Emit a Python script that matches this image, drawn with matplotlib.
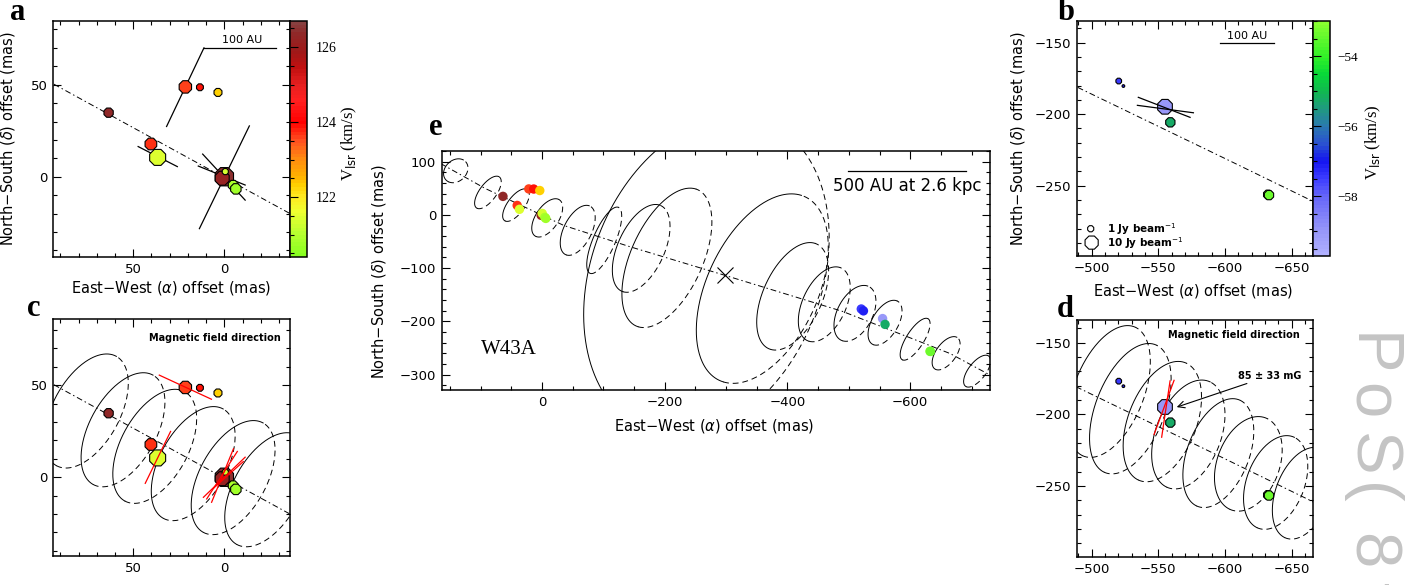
# Importamos las librerías necesarias
import numpy as np
import matplotlib
matplotlib.use("Agg")
import matplotlib.pyplot as plt
from matplotlib.colors import LinearSegmentedColormap, Normalize
from matplotlib.cm import ScalarMappable
from matplotlib.ticker import MultipleLocator

# - - - - Datos - - - -

# Máseres del lóbulo rojo (paneles a, c, e): offsets (mas), Vlsr (km/s), flujo (Jy/beam)
rojo_x = [63.5, 21.4, 13.4, 3.5, 40.3, 36.6, 0.0, 1.2, -0.5, -4.8, -6.3]
rojo_y = [34.8, 48.8, 48.6, 45.8, 17.8, 10.5, 0.0, -0.8, 2.8, -4.6, -6.6]
rojo_v = [126.4, 123.6, 123.9, 122.3, 123.7, 121.4, 126.5, 126.2, 121.3, 120.8, 120.7]
rojo_f = [3.5, 8.4, 1.4, 2.2, 7.0, 18.0, 27.0, 12.0, 1.0, 4.0, 5.0]

# Máseres del lóbulo azul (paneles b, d, e)
azul_x = [-520.3, -523.8, -555.0, -559.0, -632.2, -633.0]
azul_y = [-176.8, -180.3, -194.8, -205.7, -256.2, -256.6]
azul_v = [-57.4, -57.1, -59.0, -55.3, -53.1, -53.4]
azul_f = [0.8, 0.08, 14.0, 3.5, 3.0, 3.5]

# Eje del chorro (modelo de precesión)
eje_x = [165, 93, 0, -36, -144, -298, -489, -550, -600, -665, -735]
eje_y = [96.5, 50, -0.5, -20, -60, -113.5, -181, -208.5, -231, -260.5, -304]
estrella_x, estrella_y = -298, -113.5

# Vectores de polarización (panel a)
pol_a_x0 = [31.7, 13.7, 47.3, 14.3, 11.9]
pol_a_y0 = [27.3, -28.2, 16.4, 5.8, 12.3]
pol_a_x1 = [11.2, -13.7, 25.8, -11.4, -11.4]
pol_a_y1 = [70.0, 27.6, 5.5, -4.5, -12.7]

# Vectores de polarización (panel b)
pol_b_x0 = [-535.0, -534.3]
pol_b_y0 = [-188.2, -193.8]
pol_b_x1 = [-573.8, -576.3]
pol_b_y1 = [-202.2, -199.0]

# Dirección del campo magnético (panel c)
campo_c_x0 = [35.7, 43.4, 11.5, 7.0, 9.7, 6.0]
campo_c_y0 = [55.5, -3.3, -10.9, -13.6, -11.8, -6.0]
campo_c_x1 = [7.1, 29.5, -11.4, -5.0, -7.1, -10.4]
campo_c_y1 = [42.4, 24.9, 10.9, 15.5, 14.0, 8.5]

# Dirección del campo magnético (panel d)
campo_d_x0 = [-546.8, -552.5]
campo_d_y0 = [-214.0, -215.9]
campo_d_x1 = [-561.8, -558.8]
campo_d_y1 = [-176.2, -176.6]

# Anillos del modelo: centro, semiancho y semialto (mas), inclinación (grados)
anillo_c_x = [75.7, 55.6, 38.2, 17.1, -4.8, -23.2]
anillo_c_y = [36.0, 25.8, 16.8, 7.4, -0.2, -6.8]
anillo_c_w = [23, 23, 23, 23, 23, 23]
anillo_c_h = [31, 31, 31, 31, 31, 31]

anillo_d_x = [-513, -529, -553, -572.5, -595, -617.5, -638, -658.5]
anillo_d_y = [-184, -196, -205, -214, -227, -234.5, -247.5, -255]
anillo_d_w = [31, 30.6, 29.4, 27.5, 26.6, 25.4, 24.1, 23]
anillo_d_h = [46, 45.5, 42, 38, 38, 33, 32.7, 32]

anillo_e_x = [140.4, 88, 42.3, -8.6, -58.3, -101.5, -161.7, -203.6, -268, -359, -408.5, -460, -510, -559, -608, -658.5, -709]
anillo_e_y = [82.9, 42.2, 18.4, -5.6, -29, -47.8, -62.9, -80.7, -115, -138.5, -153, -168, -185, -202.6, -233.6, -260, -293.6]
anillo_e_w = [19.9, 21.7, 21.7, 25.2, 28.5, 28.5, 47, 73.3, 200, 107.5, 58.6, 42.3, 34.2, 27.7, 24.4, 22.8, 22]
anillo_e_h = [22.5, 30.6, 30.6, 36, 47, 62.5, 82.5, 131, 300, 178, 101, 70.4, 52.5, 42.2, 39.4, 31.3, 30]
anillo_e_i = [59, 59, 59, 62, 68, 70, 70, 70, 75, 70, 70, 70, 68, 65, 62, 60, 58]

# Paletas de velocidad
v_rojo = [120.4, 121.0, 121.6, 122.0, 122.3, 122.55, 123.0, 123.5, 124.0, 124.6, 125.0, 125.5, 125.9, 126.4, 126.7]
c_rojo = ['#88ff20', '#b8ff30', '#f0ff30', '#ffe820', '#ffd000', '#ffb000', '#ff8c10', '#ff5020',
          '#ff0000', '#ff2020', '#e82020', '#c01010', '#a01818', '#902828', '#884040']
v_azul = [-59.7, -59.0, -58.0, -57.5, -57.0, -56.5, -56.0, -55.5, -55.0, -54.5, -54.0, -53.0]
c_azul = ['#b0b0ff', '#9696f8', '#6464f8', '#3c3cff', '#1414f0', '#2a52d0', '#2a78b0', '#209a80',
          '#10b850', '#08d838', '#30f028', '#88ff30']


# - - - - Funciones auxiliares - - - -

def paleta(valores, colores, nombre):
    v0, v1 = valores[0], valores[-1]
    pares = [((v - v0) / (v1 - v0), c) for v, c in zip(valores, colores)]
    return LinearSegmentedColormap.from_list(nombre, pares, N=64), Normalize(v0, v1)


def tam(flujo):
    # radio en píxeles proporcional a la raíz cúbica del flujo
    r = 3.3 * np.cbrt(np.asarray(flujo, dtype=float))
    return (2 * r * 0.72) ** 2


def estilo(ax, xmaj, xmin, ymaj, ymin):
    ax.xaxis.set_major_locator(MultipleLocator(xmaj))
    ax.xaxis.set_minor_locator(MultipleLocator(xmin))
    ax.yaxis.set_major_locator(MultipleLocator(ymaj))
    ax.yaxis.set_minor_locator(MultipleLocator(ymin))
    ax.tick_params(which="both", direction="in", top=True, right=True,
                   labelsize=9.5, width=0.8, pad=4)
    ax.tick_params(which="major", length=6)
    ax.tick_params(which="minor", length=3)
    for s in ax.spines.values():
        s.set_linewidth(1.1)


def anillo(ax, cx, cy, w, h, incl, lw=0.7):
    # elipse inclinada: mitad delantera continua, mitad trasera discontinua
    th = np.radians(incl)
    s = w ** 2 + h ** 2
    d = (h ** 2 - w ** 2) / (-np.cos(2 * th))
    d = np.clip(d, 0, 0.9 * s)
    A = np.sqrt((s + d) / 2)
    B = np.sqrt((s - d) / 2)
    for t0, ls in ((0, "-"), (np.pi, (0, (6, 4)))):
        t = np.linspace(t0, t0 + np.pi, 150)
        u = A * np.cos(t) * np.cos(th) - B * np.sin(t) * np.sin(th)
        v = A * np.cos(t) * np.sin(th) + B * np.sin(t) * np.cos(th)
        ax.plot(cx - u, cy + v, color="black", lw=lw, ls=ls, zorder=2)


def eje(ax):
    ax.plot(eje_x, eje_y, color="black", lw=0.7, ls=(0, (6, 3, 1.5, 3)), zorder=2)


def segmentos(ax, x0, y0, x1, y1, color, z):
    for a, b, c, d in zip(x0, y0, x1, y1):
        ax.plot([a, c], [b, d], color=color, lw=0.9, zorder=z)


def barra_color(cax, norm, cmap, ticks, tam_letra, sep):
    cb = fig.colorbar(ScalarMappable(norm=norm, cmap=cmap), cax=cax)
    cb.set_ticks(ticks)
    cb.ax.yaxis.set_minor_locator(MultipleLocator(0.5))
    cb.ax.tick_params(which="both", direction="in", left=True, right=False,
                      labelleft=False, labelright=True, width=0.8, pad=sep)
    cb.ax.tick_params(which="major", length=6)
    cb.ax.tick_params(which="minor", length=3)
    for t in cb.ax.get_yticklabels():
        t.set_fontfamily("Liberation Serif")
        t.set_fontsize(tam_letra)
    cb.outline.set_linewidth(1.1)
    return cb


cmap_r, norm_r = paleta(v_rojo, c_rojo, "rojo")
cmap_b, norm_b = paleta(v_azul, c_azul, "azul")

fuente_eje = 10.5
lab_x = "East\u2212West ($\\alpha$) offset (mas)"
lab_y = "North\u2212South ($\\delta$) offset (mas)"
lab_v = "V$_{\\rm lsr}$ (km/s)"

# - - - - Figura - - - -

W, H = 1409, 585
fig = plt.figure(figsize=(W / 100, H / 100), dpi=100)


def caja(x0, y0, x1, y1):
    return [x0 / W, 1 - y1 / H, (x1 - x0) / W, (y1 - y0) / H]


# - - - - Panel a - - - -
ax_a = fig.add_axes(caja(53, 21, 290, 257))
eje(ax_a)
segmentos(ax_a, pol_a_x0, pol_a_y0, pol_a_x1, pol_a_y1, "black", 2)
ax_a.scatter(rojo_x, rojo_y, s=tam(rojo_f), c=rojo_v, cmap=cmap_r, norm=norm_r,
             marker="8", edgecolors="black", linewidths=0.8, zorder=3)
ax_a.plot([11.2, -28.4], [70, 70], color="black", lw=0.9)
ax_a.text(-9.5, 74.5, "100 AU", ha="center", va="center", fontsize=8)
ax_a.set_xlim(94, -36)
ax_a.set_ylim(-43.6, 84.6)
estilo(ax_a, 50, 10, 50, 10)
ax_a.set_xlabel(lab_x, fontsize=fuente_eje)
ax_a.set_ylabel(lab_y, fontsize=fuente_eje)
ax_a.xaxis.set_label_coords(0.5, -0.095)
ax_a.yaxis.set_label_coords(-0.15, 0.5)

cax_a = fig.add_axes(caja(290, 21, 307, 257))
barra_color(cax_a, norm_r, cmap_r, [122, 124, 126], 10, 6)
fig.text(349 / W, 1 - 143 / H, lab_v, rotation=90, ha="center",
         va="center", fontsize=12, family="Liberation Serif")

# - - - - Panel c - - - -
ax_c = fig.add_axes(caja(53, 319, 290, 556))
for cx, cy, w, h in zip(anillo_c_x, anillo_c_y, anillo_c_w, anillo_c_h):
    anillo(ax_c, cx, cy, w, h, 61)
eje(ax_c)
ax_c.scatter(rojo_x, rojo_y, s=tam(rojo_f), c=rojo_v, cmap=cmap_r, norm=norm_r,
             marker="8", edgecolors="black", linewidths=0.8, zorder=3)
segmentos(ax_c, campo_c_x0, campo_c_y0, campo_c_x1, campo_c_y1, "red", 4)
ax_c.text(5.1, 75.7, "Magnetic field direction", ha="center", va="center",
          fontsize=7, fontweight="bold")
ax_c.set_xlim(94, -36)
ax_c.set_ylim(-42.8, 86)
estilo(ax_c, 50, 10, 50, 10)

# - - - - Panel b - - - -
ax_b = fig.add_axes(caja(1077, 21, 1313, 256))
eje(ax_b)
ax_b.scatter(azul_x, azul_y, s=tam(azul_f), c=azul_v, cmap=cmap_b, norm=norm_b,
             marker="8", edgecolors="black", linewidths=0.8, zorder=3)
segmentos(ax_b, pol_b_x0, pol_b_y0, pol_b_x1, pol_b_y1, "black", 4)
ax_b.plot([-596.3, -636.8], [-150, -150], color="black", lw=0.9)
ax_b.text(-616.5, -145.3, "100 AU", ha="center", va="center", fontsize=8)
# leyenda de tamaños
ax_b.scatter([0.058, 0.062], [0.116, 0.057], s=tam([1, 10]), facecolors="white",
             edgecolors="black", linewidths=0.8, marker="8", transform=ax_b.transAxes, zorder=3)
ax_b.text(0.126, 0.116, "1 Jy beam$^{-1}$", transform=ax_b.transAxes, va="center",
          fontsize=7.5, fontweight="bold")
ax_b.text(0.126, 0.057, "10 Jy beam$^{-1}$", transform=ax_b.transAxes, va="center",
          fontsize=7.5, fontweight="bold")
ax_b.set_xlim(-489, -666)
ax_b.set_ylim(-299.2, -134.8)
estilo(ax_b, 50, 10, 50, 10)
ax_b.set_xlabel(lab_x, fontsize=fuente_eje)
ax_b.set_ylabel(lab_y, fontsize=fuente_eje)
ax_b.xaxis.set_label_coords(0.493, -0.109)
ax_b.yaxis.set_label_coords(-0.212, 0.5)

cax_b = fig.add_axes(caja(1313, 21, 1330, 256))
barra_color(cax_b, norm_b, cmap_b, [-58, -56, -54], 9.5, 5)
fig.text(1373 / W, 1 - 142 / H, lab_v, rotation=90, ha="center",
         va="center", fontsize=12, family="Liberation Serif")

# - - - - Panel d - - - -
ax_d = fig.add_axes(caja(1077, 320, 1313, 557))
for cx, cy, w, h in zip(anillo_d_x, anillo_d_y, anillo_d_w, anillo_d_h):
    anillo(ax_d, cx, cy, w, h, 66)
eje(ax_d)
ax_d.scatter(azul_x, azul_y, s=tam(azul_f), c=azul_v, cmap=cmap_b, norm=norm_b,
             marker="8", edgecolors="black", linewidths=0.8, zorder=3)
segmentos(ax_d, campo_d_x0, campo_d_y0, campo_d_x1, campo_d_y1, "red", 4)
ax_d.text(-606.5, -144.4, "Magnetic field direction", ha="center", va="center",
          fontsize=7, fontweight="bold")
ax_d.annotate("85 \u00b1 33 mG", xy=(-563.8, -194.9), xytext=(-610, -173),
              fontsize=7, fontweight="bold", va="center", ha="left",
              arrowprops=dict(arrowstyle="->", color="black", lw=0.8,
                              shrinkA=0, shrinkB=0, mutation_scale=12))
ax_d.set_xlim(-489, -666)
ax_d.set_ylim(-299.5, -134.1)
estilo(ax_d, 50, 10, 50, 10)

# - - - - Panel e - - - -
ax_e = fig.add_axes(caja(441.7, 150.5, 990, 390))
for cx, cy, w, h, i in zip(anillo_e_x, anillo_e_y, anillo_e_w, anillo_e_h, anillo_e_i):
    anillo(ax_e, cx, cy, w, h, i)
eje(ax_e)
ax_e.plot(estrella_x, estrella_y, marker="x", color="black", ms=12, mew=0.8, zorder=3)
ax_e.scatter(rojo_x, rojo_y, s=46, c=rojo_v, cmap=cmap_r, norm=norm_r,
             edgecolors="none", zorder=3)
ax_e.scatter(azul_x, azul_y, s=46, c=azul_v, cmap=cmap_b, norm=norm_b,
             edgecolors="none", zorder=3)
ax_e.plot([-499, -691], [81.6, 81.6], color="black", lw=0.9)
ax_e.text(-595, 55, "500 AU at 2.6 kpc", ha="center", va="center", fontsize=12)
ax_e.text(53, -253, "W43A", ha="center", va="center", fontsize=15,
          family="Liberation Serif")
ax_e.set_xlim(163.3, -730)
ax_e.set_ylim(-329, 121)
estilo(ax_e, 200, 50, 100, 20)
ax_e.set_xlabel(lab_x, fontsize=fuente_eje)
ax_e.set_ylabel(lab_y, fontsize=fuente_eje)
ax_e.xaxis.set_label_coords(0.497, -0.113)
ax_e.yaxis.set_label_coords(-0.098, 0.494)

# - - - - Letras de los paneles - - - -
for letra, px, py in (("a", 10, 20), ("b", 1058, 20), ("c", 27, 316),
                      ("d", 1057, 317), ("e", 429, 135)):
    fig.text(px / W, 1 - py / H, letra, fontsize=22, fontweight="bold",
             family="Liberation Serif", ha="left", va="baseline")

# - - - - Marca de agua (solo la parte visible) - - - -
for k, ch in enumerate("PoS(8t"):
    fig.text(1353 / W, 1 - (333 + 50 * k) / H, ch, rotation=-90, rotation_mode="anchor",
             ha="left", va="baseline", fontsize=47, color="#c4c4c4",
             family="Liberation Sans")

# Guardamos la figura
fig.savefig("out.png", dpi=100)
